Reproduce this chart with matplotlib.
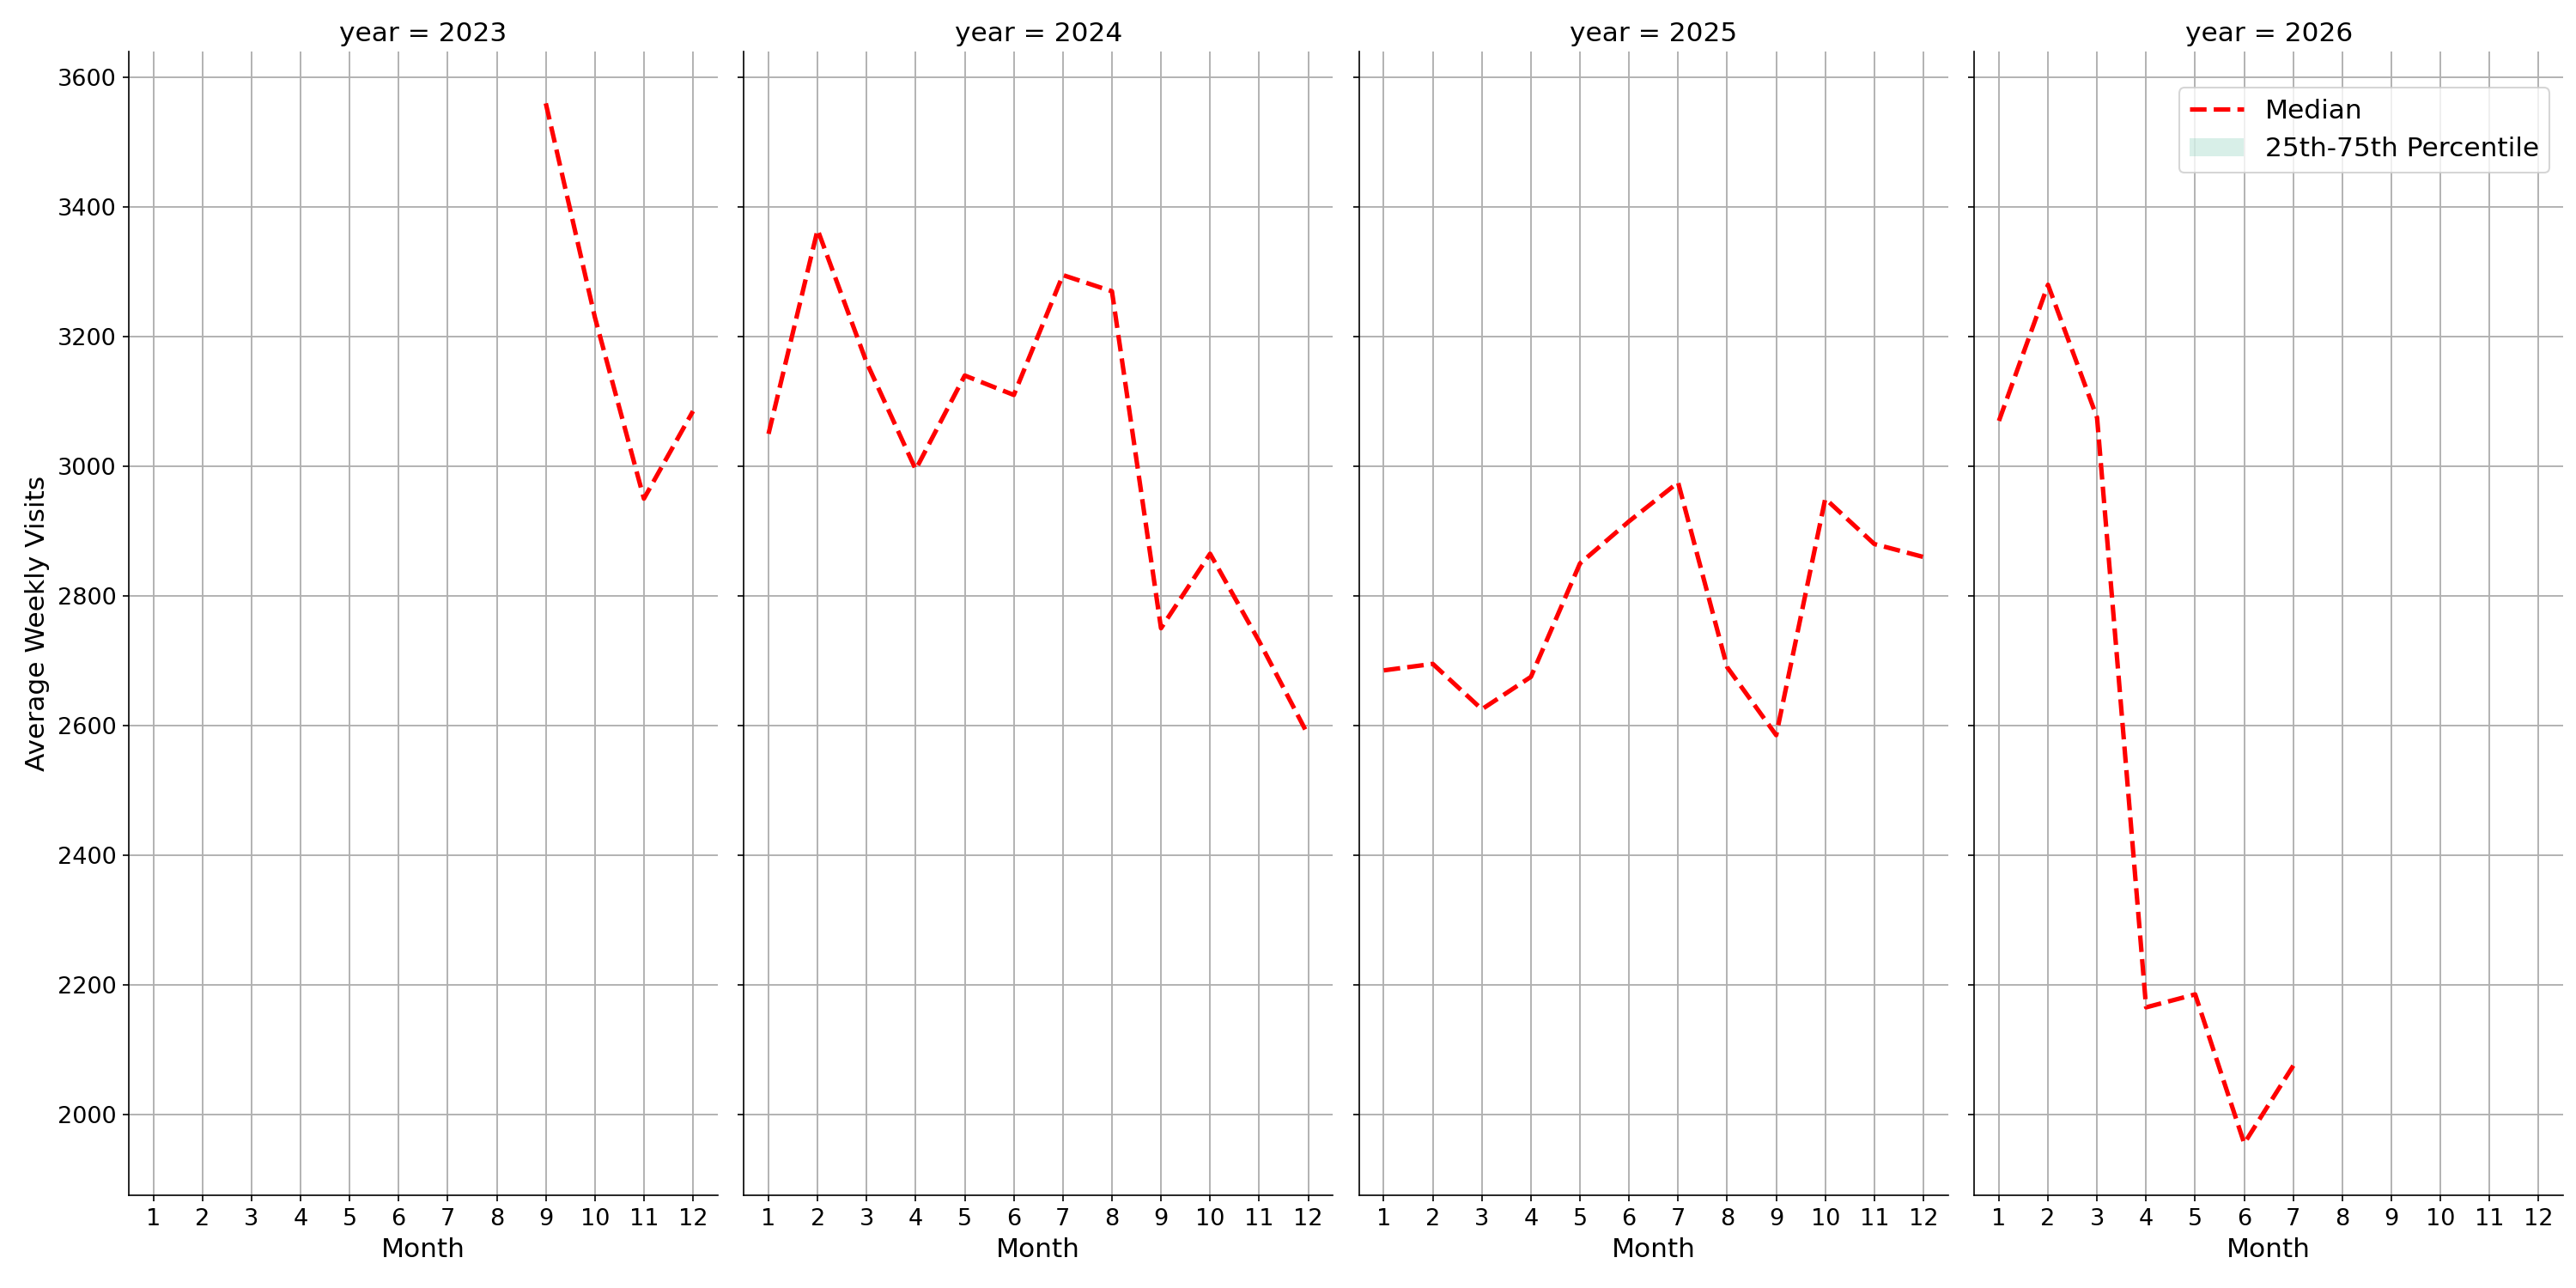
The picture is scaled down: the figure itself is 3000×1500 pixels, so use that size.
import matplotlib
matplotlib.use("Agg")
import matplotlib.pyplot as plt

years = [2023, 2024, 2025, 2026]
months = {
    2023: [9, 10, 11, 12],
    2024: list(range(1, 13)),
    2025: list(range(1, 13)),
    2026: [1, 2, 3, 4, 5, 6, 7],
}
median = {
    2023: [3560, 3230, 2950, 3085],
    2024: [3050, 3365, 3160, 2995, 3140, 3110, 3295, 3270, 2750, 2865, 2730, 2585],
    2025: [2685, 2695, 2625, 2675, 2850, 2915, 2975, 2690, 2585, 2950, 2880, 2860],
    2026: [3070, 3280, 3075, 2165, 2185, 1955, 2075],
}
month_ticks = list(range(1, 13))

fig, axes = plt.subplots(1, 4, figsize=(20, 10), dpi=150, sharey=True)
fig.subplots_adjust(left=0.05, right=0.995, top=0.96, bottom=0.072, wspace=0.045)
for ax, y in zip(axes, years):
    ax.fill_between(months[y], median[y], median[y], color="#66c2a5", alpha=0.25,
                    label="25th-75th Percentile", linewidth=0)
    ax.plot(months[y], median[y], color="red", linestyle="--", linewidth=2.5, label="Median")
    ax.set_title(f"year = {y}", fontsize=15)
    ax.set_xticks(month_ticks)
    ax.set_xlim(0.5, 12.5)
    ax.grid(True, color="#b0b0b0", linewidth=0.9)
    ax.set_axisbelow(True)
    ax.set_xlabel("Month", fontsize=15)
    ax.tick_params(labelsize=13)
    for s in ["top", "right"]:
        ax.spines[s].set_visible(False)
axes[0].set_ylim(1875, 3640)
axes[0].set_yticks(range(2000, 3601, 200))
axes[0].set_ylabel("Average Weekly Visits", fontsize=15)
h, l = axes[3].get_legend_handles_labels()
axes[3].legend([h[1], h[0]], [l[1], l[0]], loc="upper right", fontsize=15,
               bbox_to_anchor=(1.0, 0.98))
fig.savefig("out.png")
